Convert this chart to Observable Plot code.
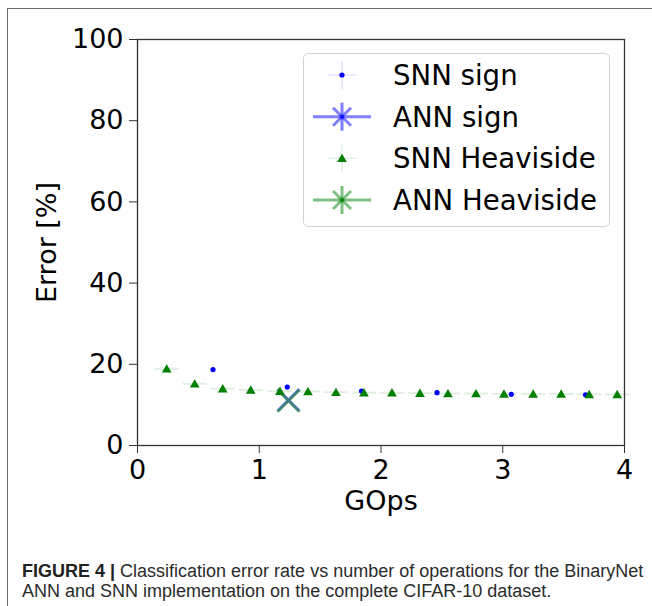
<!DOCTYPE html>
<html><head><meta charset="utf-8">
<script src="https://cdn.jsdelivr.net/npm/d3@7"></script>
<script src="https://cdn.jsdelivr.net/npm/@observablehq/plot@0.6"></script>
<style>
html,body{margin:0;padding:0;background:#fff;width:652px;height:606px;overflow:hidden;}
body{position:relative;font-family:"DejaVu Sans",sans-serif;}
#frame{position:absolute;left:7px;top:8px;width:660px;height:620px;border-top:1.5px solid #6a6a6a;border-left:1.5px solid #6a6a6a;}
#chart{position:absolute;left:0;top:0;}
#legend{position:absolute;left:0;top:0;}
#caption{position:absolute;left:22px;top:562px;width:640px;font-family:"Liberation Sans",Arial,sans-serif;font-size:18px;line-height:19.5px;color:#2b2b2b;white-space:nowrap;}
#caption b{font-weight:bold;color:#222;}
</style>
</head><body>
<div id="frame"></div>
<div id="chart"></div>
<svg id="legend" width="652" height="300"></svg>
<div id="caption"></div>
<script>
// ---- data ----
const xTicks = [0, 1, 2, 3, 4];
const yTicks = [0, 20, 40, 60, 80, 100];
const xLabel = "GOps";
const yLabel = "Error [%]";
const seriesNames = ["SNN sign", "ANN sign", "SNN Heaviside", "ANN Heaviside"];

const snnSignX = [0.62, 1.23, 1.84, 2.46, 3.07, 3.68];
const snnSignY = [18.7, 14.4, 13.4, 13.0, 12.6, 12.5];

const snnHeavX = [0.24, 0.47, 0.70, 0.93, 1.17, 1.40, 1.63, 1.86, 2.09, 2.32, 2.55, 2.78, 3.01, 3.25, 3.48, 3.71, 3.94];
const snnHeavY = [18.9, 15.2, 14.0, 13.7, 13.4, 13.3, 13.1, 13.0, 13.0, 12.9, 12.8, 12.8, 12.7, 12.7, 12.7, 12.6, 12.6];
const snnHeavXErr = [0.1, 0.1, 0.1, 0.1, 0.1, 0.1, 0.1, 0.1, 0.1, 0.1, 0.1, 0.1, 0.1, 0.1, 0.1, 0.1, 0.1];

const annSignX = [1.24];
const annSignY = [11.2];
const annHeavX = [1.24];
const annHeavY = [11.0];

const captionBold = "FIGURE 4 |";
const captionText = " Classification error rate vs number of operations for the BinaryNet ANN and SNN implementation on the complete CIFAR-10 dataset.";

// ---- build tables ----
const signData = snnSignX.map((x, i) => ({x, y: snnSignY[i]}));
const heavData = snnHeavX.map((x, i) => ({x, y: snnHeavY[i], e: snnHeavXErr[i]}));
const annSign = annSignX.map((x, i) => ({x, y: annSignY[i]}));
const annHeav = annHeavX.map((x, i) => ({x, y: annHeavY[i]}));

const BLUE = "#0000ff", GREEN = "#008000";

const chart = Plot.plot({
  width: 652, height: 530,
  marginLeft: 137, marginRight: 28, marginTop: 39, marginBottom: 85,
  style: {fontFamily: "DejaVu Sans", fontSize: "27px", color: "#000", background: "transparent", overflow: "visible"},
  x: {domain: [0, 4]},
  y: {domain: [0, 100]},
  marks: [
    Plot.axisX({ticks: xTicks, tickSize: 8, tickPadding: 6, tickFormat: d => String(d), label: null, stroke: "#333", fontSize: 27}),
    Plot.axisY({ticks: yTicks, tickSize: 8, tickPadding: 6, tickFormat: d => String(d), label: null, stroke: "#333", fontSize: 27}),
    Plot.text([xLabel], {frameAnchor: "bottom", lineAnchor: "middle", dy: 56, fontSize: 27, fill: "#000"}),
    Plot.text([yLabel], {frameAnchor: "left", textAnchor: "middle", lineAnchor: "middle", dx: -90, rotate: -90, fontSize: 27, fill: "#000"}),
    Plot.link(heavData, {x1: d => d.x - d.e, x2: d => d.x + d.e, y1: "y", y2: "y", stroke: GREEN, strokeOpacity: 0.12, strokeWidth: 2}),
    Plot.dot(signData, {x: "x", y: "y", fill: BLUE, r: 2.6}),
    Plot.dot(annSign, {x: "x", y: "y", symbol: "times", stroke: BLUE, strokeOpacity: 0.5, strokeWidth: 3, r: 10}),
    Plot.dot(heavData, {x: "x", y: "y", symbol: "triangle", fill: GREEN, r: 3.6, dy: 1}),
    Plot.dot(annHeav, {x: "x", y: "y", symbol: "times", stroke: GREEN, strokeOpacity: 0.5, strokeWidth: 3, r: 10}),
    Plot.frame({stroke: "#333", strokeWidth: 1.3})
  ]
});
document.getElementById("chart").appendChild(chart);

// ---- legend ----
const lg = d3.select("#legend");
const box = {x: 303.5, y: 53.5, w: 306, h: 173};
lg.append("rect").attr("x", box.x).attr("y", box.y).attr("width", box.w).attr("height", box.h)
  .attr("rx", 5).attr("fill", "white").attr("fill-opacity", 0.8).attr("stroke", "#d2d2d2").attr("stroke-width", 1);
const rowY = [75, 116.7, 158.3, 200];
const mx = 342;
seriesNames.forEach((name, i) => {
  const y = rowY[i];
  const color = (i < 2) ? BLUE : GREEN;
  const g = lg.append("g");
  if (i === 0 || i === 2) {
    g.append("line").attr("x1", mx - 14).attr("x2", mx + 14).attr("y1", y).attr("y2", y).attr("stroke", color).attr("stroke-opacity", 0.12).attr("stroke-width", 1.5);
    g.append("line").attr("x1", mx).attr("x2", mx).attr("y1", y - 14).attr("y2", y + 14).attr("stroke", color).attr("stroke-opacity", 0.12).attr("stroke-width", 1.5);
    if (i === 0) g.append("circle").attr("cx", mx).attr("cy", y).attr("r", 2.6).attr("fill", color);
    else g.append("path").attr("d", d3.symbol(d3.symbolTriangle, 3.6 * 3.6 * Math.PI)()).attr("transform", `translate(${mx},${y + 1})`).attr("fill", color);
  } else {
    g.append("line").attr("x1", 313).attr("x2", 371).attr("y1", y).attr("y2", y).attr("stroke", color).attr("stroke-opacity", 0.5).attr("stroke-width", 3);
    g.append("line").attr("x1", mx).attr("x2", mx).attr("y1", y - 14).attr("y2", y + 14).attr("stroke", color).attr("stroke-opacity", 0.5).attr("stroke-width", 3);
    g.append("path").attr("d", `M${mx-9},${y-9}L${mx+9},${y+9}M${mx-9},${y+9}L${mx+9},${y-9}`).attr("stroke", color).attr("stroke-opacity", 0.5).attr("stroke-width", 3);
    g.append("circle").attr("cx", mx).attr("cy", y).attr("r", 2).attr("fill", color).attr("fill-opacity", 0.5);
  }
  lg.append("text").attr("x", 393).attr("y", y).attr("dy", "0.36em").attr("font-family", "DejaVu Sans").attr("font-size", 27.6).attr("fill", "#000").text(name);
});

// ---- caption ----
const cap = document.getElementById("caption");
const b = document.createElement("b"); b.textContent = captionBold; cap.appendChild(b);
const words = captionText;
const i1 = words.indexOf("ANN and");
cap.appendChild(document.createTextNode(words.slice(0, i1).trimEnd()));
cap.appendChild(document.createElement("br"));
cap.appendChild(document.createTextNode(words.slice(i1)));
</script>
</body></html>
